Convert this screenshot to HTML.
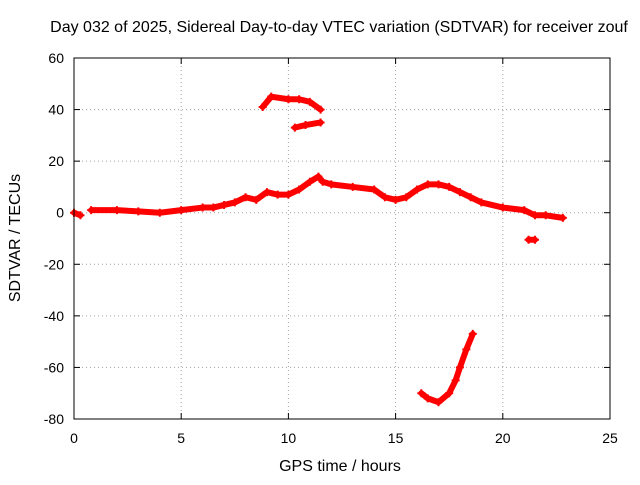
<!DOCTYPE html>
<html><head><meta charset="utf-8"><style>
body{margin:0;background:#fff;}
text{font-family:"Liberation Sans",sans-serif;font-size:14px;fill:#000;}
.big{font-size:16px;}
</style></head><body>
<svg id="chart" width="640" height="480" xmlns="http://www.w3.org/2000/svg">
<text class="big" x="339" y="32" text-anchor="middle">Day 032 of 2025, Sidereal Day-to-day VTEC variation (SDTVAR) for receiver zouf</text>
<text class="big" x="340" y="471" text-anchor="middle">GPS time / hours</text>
<text class="big" transform="translate(20,238) rotate(-90)" text-anchor="middle">SDTVAR / TECUs</text>
<g id="grid"></g>
<g id="axes"></g>
<g id="marks"></g>
<rect x="74" y="58" width="536" height="361" fill="none" stroke="#000" stroke-width="1"/>
</svg>
<script>
const xTicks=[0,5,10,15,20,25];
const yTicks=[60,40,20,0,-20,-40,-60,-80];
const startHours=[0,0.3];
const startVals=[0,-1];
const mainHours=[0.8,2,3,4,5,6,6.5,7,7.5,8,8.5,9,9.5,10,10.5,11,11.4,11.6,12,13,14,14.5,15,15.5,16,16.5,17,17.5,18,18.5,19,20,21,21.5,22,22.8];
const mainVals=[1,1,0.5,0,1,2,2,3,4,6,5,8,7,7,9,12,14,12,11,10,9,6,5,6,9,11,11,10,8,6,4,2,1,-1,-1,-2];
const arcHours=[8.8,9.2,10,10.5,11,11.5];
const arcVals=[41,45,44,44,43,40];
const arc2Hours=[10.3,10.8,11.5];
const arc2Vals=[33,34,35];
const dotHours=[21.2,21.5];
const dotVals=[-10.5,-10.5];
const lowHours=[16.2,16.5,17,17.5,17.8,18,18.3,18.6];
const lowVals=[-70,-72,-73.5,-70,-65,-60,-53,-47];

const X0=74,X1=610,Y0=419,Y1=58;
const xs=v=>X0+(v-0)/(25-0)*(X1-X0);
const ys=v=>Y0-(v+80)/(140)*(Y0-Y1);
const NS="http://www.w3.org/2000/svg";
function mk(tag,attrs,parent){const e=document.createElementNS(NS,tag);for(const k in attrs)e.setAttribute(k,attrs[k]);parent.appendChild(e);return e;}
const grid=document.getElementById('grid'),axes=document.getElementById('axes'),marks=document.getElementById('marks');
xTicks.forEach(t=>{const x=xs(t);
 if(t>0&&t<25){const g=mk('line',{x1:x,x2:x,y1:Y1,y2:Y0,stroke:'#a0a0a0','stroke-dasharray':'1,3'},grid);}
 const a=mk('line',{x1:x,x2:x,y1:Y0,y2:Y0-6,stroke:'#000'},axes);
 const b=mk('line',{x1:x,x2:x,y1:Y1,y2:Y1+6,stroke:'#000'},axes);
 const l=mk('text',{x:x,y:Y0+24,'text-anchor':'middle'},axes);l.textContent=t;});
yTicks.forEach(t=>{const y=ys(t);
 if(t>-80&&t<60){const g=mk('line',{x1:X0,x2:X1,y1:y,y2:y,stroke:'#a0a0a0','stroke-dasharray':'1,3'},grid);}
 const a=mk('line',{x1:X0,x2:X0+6,y1:y,y2:y,stroke:'#000'},axes);
 const b=mk('line',{x1:X1,x2:X1-6,y1:y,y2:y,stroke:'#000'},axes);
 const l=mk('text',{x:X0-10,y:y+5,'text-anchor':'end'},axes);l.textContent=t;});
function series(hs,vs,name){
 const pts=hs.map((h,i)=>xs(h)+','+ys(vs[i])).join(' ');
 const p=mk('polyline',{points:pts,fill:'none',stroke:'#f00','stroke-width':6,'stroke-linejoin':'round','stroke-linecap':'round'},marks);
 
 
 hs.forEach((h,i)=>{const x=xs(h),y=ys(vs[i]);
  const m=mk('path',{d:`M${x-4},${y}H${x+4}M${x},${y-4}V${y+4}`,stroke:'#f00','stroke-width':2},marks);
  
  });
}
series(startHours,startVals,'start-segment');
series(mainHours,mainVals,'main-trace');
series(arcHours,arcVals,'upper-arc');
series(arc2Hours,arc2Vals,'second-arc');
series(dotHours,dotVals,'isolated-segment');
series(lowHours,lowVals,'lower-curve');
</script>
</body></html>
